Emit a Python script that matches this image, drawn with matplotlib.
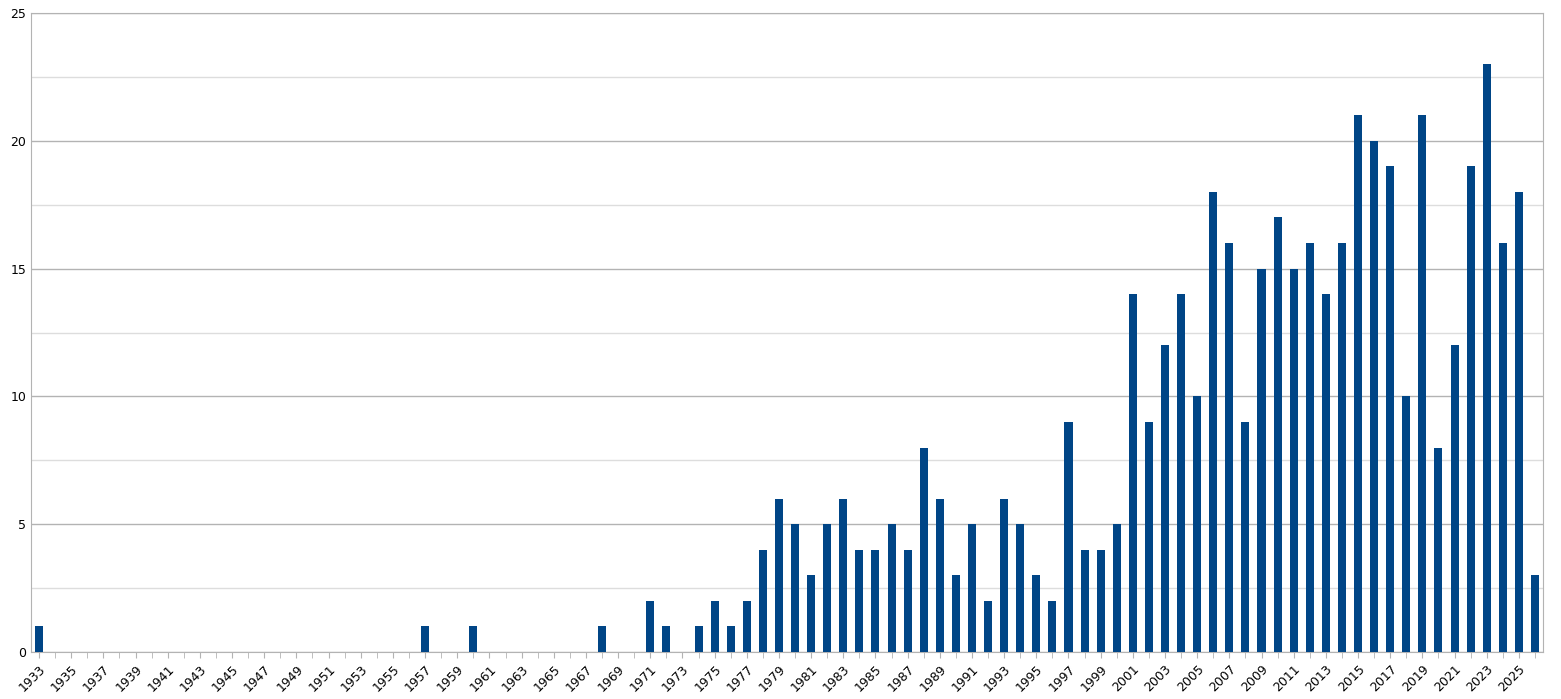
import matplotlib
matplotlib.use("Agg")
import matplotlib.pyplot as plt
from matplotlib.ticker import MultipleLocator

years = list(range(1933, 2027))
nonzero = {1933:1,1957:1,1960:1,1968:1,1971:2,1972:1,1974:1,1975:2,1976:1,1977:2,
 1978:4,1979:6,1980:5,1981:3,1982:5,1983:6,1984:4,1985:4,1986:5,1987:4,1988:8,
 1989:6,1990:3,1991:5,1992:2,1993:6,1994:5,1995:3,1996:2,1997:9,1998:4,1999:4,
 2000:5,2001:14,2002:9,2003:12,2004:14,2005:10,2006:18,2007:16,2008:9,2009:15,
 2010:17,2011:15,2012:16,2013:14,2014:16,2015:21,2016:20,2017:19,2018:10,2019:21,
 2020:8,2021:12,2022:19,2023:23,2024:16,2025:18,2026:3}
values = [nonzero.get(y, 0) for y in years]
tick_labels = [str(y) for y in years[::2]]

fig = plt.figure(figsize=(15.61, 6.99), dpi=100)
ax = fig.add_axes([31/1561, 1-652/699, (1543-31)/1561, (652-13)/699])
ax.bar(years, values, width=0.5, color="#004586", zorder=3)
ax.set_xlim(years[0]-0.5, years[-1]+0.5)
ax.set_ylim(0, 25)
ax.yaxis.set_major_locator(MultipleLocator(5))
ax.yaxis.set_minor_locator(MultipleLocator(2.5))
ax.grid(axis="y", which="major", color="#b3b3b3", lw=1, zorder=0)
ax.grid(axis="y", which="minor", color="#dddddd", lw=1, zorder=0)
ax.set_xticks(years[::2])
ax.set_xticklabels(tick_labels, rotation=45, ha="right", rotation_mode="anchor", fontsize=9)
ax.set_xticks(years, minor=True)
ax.tick_params(axis="y", labelsize=9, length=0, which="both")
ax.tick_params(axis="x", which="both", length=4, color="#b3b3b3")
for s in ax.spines.values():
    s.set_color("#b3b3b3")
fig.savefig("out.png", dpi=100)
